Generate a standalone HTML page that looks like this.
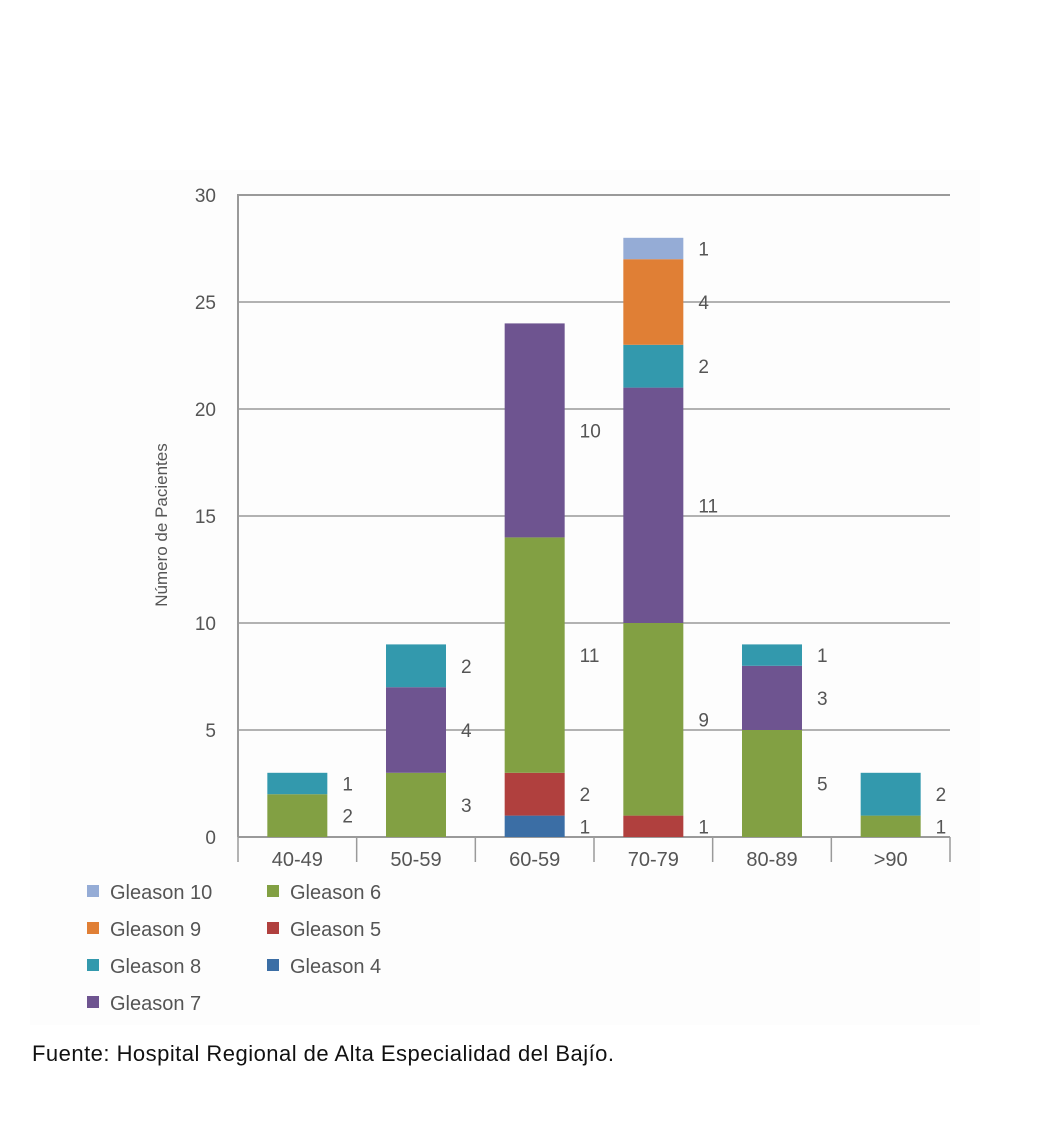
<!DOCTYPE html>
<html><head><meta charset="utf-8"><style>
body{margin:0;background:#fff;}
svg text{font-family:"Liberation Sans Narrow","Liberation Sans",sans-serif;}
</style></head><body>
<svg width="1043" height="1116" xmlns="http://www.w3.org/2000/svg">
<rect x="30" y="170" width="950" height="855" fill="#fdfdfd"/>
<g id="grid"></g>
<g id="bars"></g>
<g id="legend"></g>
<text x="167" y="525" transform="rotate(-90 167 525)" text-anchor="middle" font-size="17" fill="#555">Número de Pacientes</text>
<text x="32" y="1061" font-size="22" fill="#111" textLength="582" style="font-family:'Liberation Sans',sans-serif">Fuente: Hospital Regional de Alta Especialidad del Bajío.</text>
</svg>
<script>
const categories=["40-49","50-59","60-59","70-79","80-89",">90"];
const seriesNames=["Gleason 4","Gleason 5","Gleason 6","Gleason 7","Gleason 8","Gleason 9","Gleason 10"];
const g4=[0,0,1,0,0,0];
const g5=[0,0,2,1,0,0];
const g6=[2,3,11,9,5,1];
const g7=[0,4,10,11,3,0];
const g8=[1,2,0,2,1,2];
const g9=[0,0,0,4,0,0];
const g10=[0,0,0,1,0,0];
const yTicks=[0,5,10,15,20,25,30];
const series=[g4,g5,g6,g7,g8,g9,g10];
const colors=["#3b6ea5","#b0403e","#82a043","#6e5490","#3399ad","#e07f35","#95acd6"];
const NS="http://www.w3.org/2000/svg";
const X0=238,X1=950,Y0=837,Y30=195;
const y=v=>Y0-(v/30)*(Y0-Y30);
const bw=(X1-X0)/categories.length;
const xc=i=>X0+bw*(i+0.5);
function mk(tag,attrs,parent,text){const e=document.createElementNS(NS,tag);for(const k in attrs)e.setAttribute(k,attrs[k]);if(text!==undefined)e.textContent=text;parent.appendChild(e);return e;}
const grid=document.getElementById('grid');
yTicks.forEach(t=>{
  if(t>0){const l=mk('line',{x1:X0,x2:X1,y1:y(t),y2:y(t),stroke:'#9a9a9a','stroke-width':t==30?2:1.5},grid);
  
  }
  const tx=mk('text',{x:216,y:y(t)+7,'text-anchor':'end','font-size':19,fill:'#555'},grid,String(t));
  
  
});
const ax=mk('line',{x1:X0,x2:X0,y1:Y30-1,y2:Y0,stroke:'#9a9a9a','stroke-width':2},grid);


const xa=mk('line',{x1:X0,x2:X1,y1:Y0,y2:Y0,stroke:'#9a9a9a','stroke-width':2},grid);


for(let i=0;i<=categories.length;i++){
  const tk=mk('line',{x1:X0+bw*i,x2:X0+bw*i,y1:Y0,y2:862,stroke:'#9a9a9a','stroke-width':1.5},grid);
  
  
}
const bars=document.getElementById('bars');
categories.forEach((c,i)=>{
  const lt=mk('text',{x:xc(i),y:866,'text-anchor':'middle','font-size':20,fill:'#555'},bars,c);
  
  
  let acc=0;
  series.forEach((s,k)=>{
    const v=s[i]; if(!v)return;
    const r=mk('rect',{x:xc(i)-30,y:y(acc+v),width:60,height:y(acc)-y(acc+v),fill:colors[k]},bars);
    
    
    const t=mk('text',{x:xc(i)+45,y:y(acc+v/2)+7,'font-size':19,fill:'#555'},bars,String(v));
    
    
    acc+=v;
  });
});
const leg=document.getElementById('legend');
const legItems=[[6,87,892],[5,87,929],[4,87,966],[3,87,1003],[2,267,892],[1,267,929],[0,267,966]];
legItems.forEach(([k,lx,ly])=>{
  const r=mk('rect',{x:lx,y:ly-7,width:12,height:12,fill:colors[k]},leg);
  
  
  const t=mk('text',{x:lx+23,y:ly+7,'font-size':20,fill:'#555'},leg,seriesNames[k]);
  
  
});
</script>
</body></html>
